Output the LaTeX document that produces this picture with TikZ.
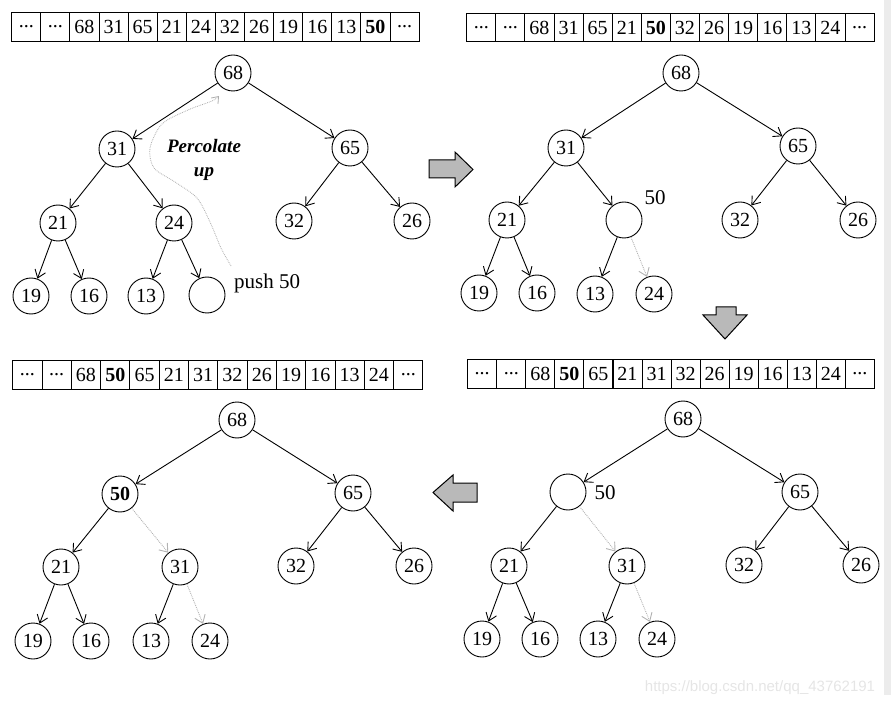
\documentclass[tikz,border=0pt]{standalone}
\usepackage{fontspec}
\setmainfont{Liberation Serif}
\newfontfamily\markfont{Liberation Sans}
\usetikzlibrary{arrows.meta}
\newcommand\etc{...}
\tikzset{
  key/.style={circle,draw,line width=0.9pt,minimum size=36pt,inner sep=0pt,font=\fontsize{20}{22}\selectfont},
  cell/.style={draw,line width=0.9pt,minimum width=29.1pt,minimum height=28.5pt,inner sep=0pt,outer sep=0pt,font=\fontsize{20}{22}\selectfont},
  arr/.style={-{Straight Barb[length=7.5pt,width=11pt]},line width=0.9pt},
  arrdot/.style={arr,draw=gray!60,densely dotted},
  perc/.style={-{Straight Barb[length=6pt,width=9pt]},draw=gray!65,densely dotted,line width=0.8pt},
  bigarrow/.style={draw,line width=1pt,fill=gray!55},
  lbl/.style={inner sep=0pt,font=\fontsize{21}{23}\selectfont}
}

\begin{document}
\begin{tikzpicture}[x=1pt,y=-1pt]
    \useasboundingbox (0,0) rectangle (891,708);
    \fill[gray!15] (884,0) rectangle (891,695);
    % arrays
    \foreach \val [count=\i] in {\etc,\etc,68,31,65,21,24,32,26,19,16,13,\textbf{50},\etc}
      \node[cell] (tlc\i) at ({11.7+29.1*(\i-0.5)},27) {\val};
    \foreach \val [count=\i] in {\etc,\etc,68,31,65,21,\textbf{50},32,26,19,16,13,24,\etc}
      \node[cell] (trc\i) at ({466.7+29.1*(\i-0.5)},27.5) {\val};
    \foreach \val [count=\i] in {\etc,\etc,68,\textbf{50},65,21,31,32,26,19,16,13,24,\etc}
      \node[cell,minimum width=29.3pt] (blc\i) at ({12.7+29.3*(\i-0.5)},375) {\val};
    \foreach \val [count=\i] in {\etc,\etc,68,\textbf{50},65,21,31,32,26,19,16,13,24,\etc}
      \node[cell] (brc\i) at ({467.7+29.05*(\i-0.5)},374) {\val};

    % push 50
    \node[key] (tl68) at (233,73) {68};
    \node[key] (tl31) at (117,149) {31};
    \node[key] (tl65) at (350,148) {65};
    \node[key] (tl21) at (58,223) {21};
    \node[key] (tl24) at (174,223) {24};
    \node[key] (tl32) at (294,221) {32};
    \node[key] (tl26) at (412,221) {26};
    \node[key] (tl19) at (31,296) {19};
    \node[key] (tl16) at (89,296) {16};
    \node[key] (tl13) at (146,296) {13};
    \node[key] (tlhole) at (207,295) {};
    \node[lbl,anchor=west] (push) at (234,283) {push 50};
    \node[inner sep=0pt,align=center,font=\fontsize{19}{24}\selectfont\bfseries\itshape] (percup) at (204,160) {Percolate\\up};
    \foreach \p/\c in {68/31,68/65,31/21,31/24,65/32,65/26,21/19,21/16,24/13,24/hole}
      \draw[arr] (tl\p) -- (tl\c);
    \coordinate (percfrom) at (231,266);
    \coordinate (percto) at (219,96);
    \draw[perc] plot[smooth] coordinates {(percfrom) (221,248) (210,222) (197,198) (175,182) (154,168) (150,148) (162,124) (188,110) (212,101) (percto)};

    % after percolate step 1
    \node[key] (tr68) at (681,73) {68};
    \node[key] (tr31) at (566,148) {31};
    \node[key] (tr65) at (798,146) {65};
    \node[key] (tr21) at (507,220) {21};
    \node[key] (trhole) at (624,220) {};
    \node[lbl] (trlbl) at (655,198) {50};
    \node[key] (tr32) at (740,220) {32};
    \node[key] (tr26) at (858,220) {26};
    \node[key] (tr19) at (479,293) {19};
    \node[key] (tr16) at (537,293) {16};
    \node[key] (tr13) at (595,294) {13};
    \node[key] (tr24) at (654,294) {24};
    \foreach \p/\c in {68/31,68/65,31/21,31/hole,65/32,65/26,21/19,21/16,hole/13}
      \draw[arr] (tr\p) -- (tr\c);
    \draw[arrdot] (trhole) -- (tr24);

    % after percolate step 2
    \node[key] (br68) at (683,419) {68};
    \node[key] (brhole) at (568,492) {};
    \node[lbl] (brlbl) at (605,493) {50};
    \node[key] (br65) at (800,492) {65};
    \node[key] (br21) at (509,566) {21};
    \node[key] (br31) at (627,566) {31};
    \node[key] (br32) at (744,565) {32};
    \node[key] (br26) at (861,565) {26};
    \node[key] (br19) at (482,639) {19};
    \node[key] (br16) at (540,639) {16};
    \node[key] (br13) at (598,639) {13};
    \node[key] (br24) at (657,639) {24};
    \foreach \p/\c in {68/hole,68/65,hole/21,21/19,21/16,31/13,65/32,65/26}
      \draw[arr] (br\p) -- (br\c);
    \draw[arrdot] (brhole) -- (br31);
    \draw[arrdot] (br31) -- (br24);

    % result
    \node[key] (bl68) at (237,420) {68};
    \node[key,font=\fontsize{20}{22}\selectfont\bfseries] (bl50) at (120,494) {50};
    \node[key] (bl65) at (353,493) {65};
    \node[key] (bl21) at (61,567) {21};
    \node[key] (bl31) at (180,567) {31};
    \node[key] (bl32) at (296,566) {32};
    \node[key] (bl26) at (414,566) {26};
    \node[key] (bl19) at (33,641) {19};
    \node[key] (bl16) at (91,641) {16};
    \node[key] (bl13) at (151,641) {13};
    \node[key] (bl24) at (210,641) {24};
    \foreach \p/\c in {68/50,68/65,50/21,21/19,21/16,31/13,65/32,65/26}
      \draw[arr] (bl\p) -- (bl\c);
    \draw[arrdot] (bl50) -- (bl31);
    \draw[arrdot] (bl31) -- (bl24);

    % big arrows
    \draw[bigarrow] (429,160) -- (455,160) -- (455,152) -- (473,169.5) -- (455,187) -- (455,178) -- (429,178) -- cycle;
    \draw[bigarrow] (716,307) -- (736,307) -- (736,315) -- (747,315) -- (725,339) -- (703,315) -- (716,315) -- cycle;
    \draw[bigarrow] (477,483) -- (453,483) -- (453,475) -- (433,492.5) -- (453,511) -- (453,502) -- (477,502) -- cycle;

    \node[text=gray!20,font=\markfont\fontsize{15}{17}\selectfont] (mark) at (760,688) {https://blog.csdn.net/qq\_43762191};
  \end{tikzpicture}
\end{document}
